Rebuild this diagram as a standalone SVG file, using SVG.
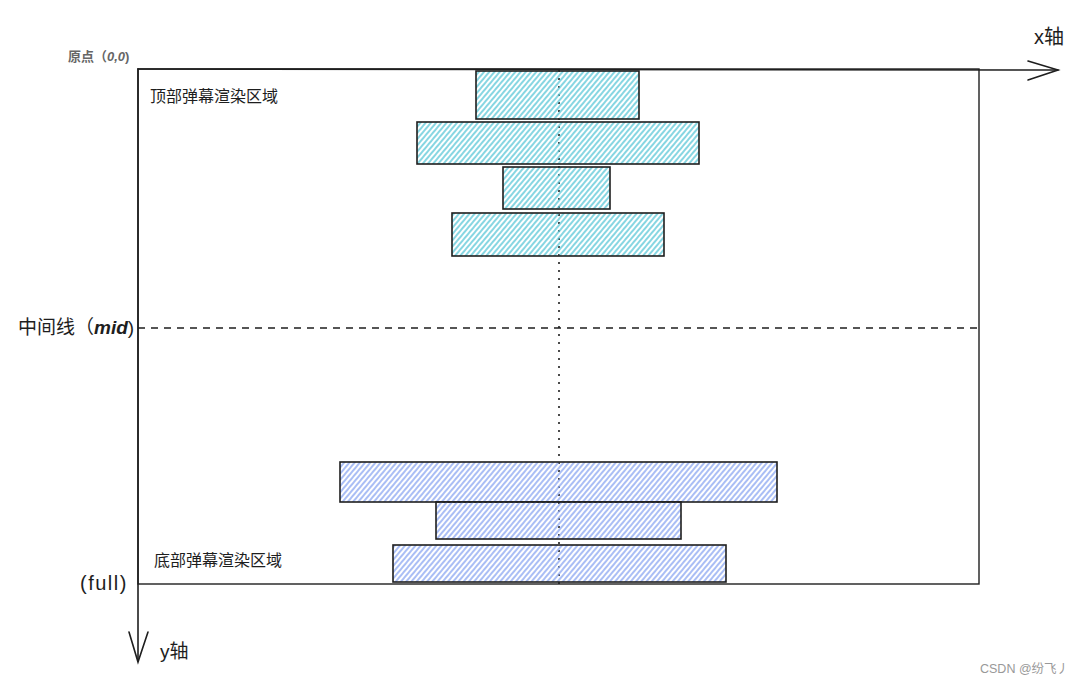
<svg xmlns="http://www.w3.org/2000/svg" width="1086" height="687" viewBox="0 0 1086 687">
<defs>
<pattern id="hc" width="4" height="4" patternUnits="userSpaceOnUse" patternTransform="rotate(40)">
<line x1="1" y1="0" x2="1" y2="4" stroke="#5ec8d8" stroke-width="1.5"/>
</pattern>
<pattern id="hb" width="4" height="4" patternUnits="userSpaceOnUse" patternTransform="rotate(40)">
<line x1="1" y1="0" x2="1" y2="4" stroke="#8ea8f2" stroke-width="1.5"/>
</pattern>
<style>
.cy{fill:url(#hc);stroke:#1e1e1e;stroke-width:1.6}
.bl{fill:url(#hb);stroke:#1e1e1e;stroke-width:1.6}
.ax{fill:none;stroke:#1e1e1e;stroke-width:1.6;stroke-linecap:round}
.t{font-family:"Liberation Sans","Noto Sans CJK SC",sans-serif;fill:#1e1e1e}
</style>
</defs>
<rect width="1086" height="687" fill="#ffffff"/>
<g id="frame">
<rect x="138" y="69" width="841" height="515" fill="none" stroke="#1e1e1e" stroke-width="1.4"/>
</g>
<g id="connectors">
<line class="ax" x1="138" y1="69" x2="1058" y2="70"/>
<polyline class="ax" points="1028,61 1058,70 1028,80"/>
<line class="ax" x1="138" y1="69" x2="138" y2="661"/>
<polyline class="ax" points="129,632 138,662 148,632"/>
<line x1="138" y1="328" x2="979" y2="328" stroke="#1e1e1e" stroke-width="1.4" stroke-dasharray="7,6"/>
<line x1="559" y1="70" x2="559" y2="584" stroke="#1e1e1e" stroke-width="1.6" stroke-dasharray="2,6"/>
</g>
<g id="top1"><rect class="cy" x="476" y="71" width="163" height="48"/></g>
<g id="top2"><rect class="cy" x="417" y="122" width="282" height="42"/></g>
<g id="top3"><rect class="cy" x="503" y="167" width="107" height="42"/></g>
<g id="top4"><rect class="cy" x="452" y="213" width="212" height="43"/></g>
<g id="bot1"><rect class="bl" x="340" y="462" width="437" height="40"/></g>
<g id="bot2"><rect class="bl" x="436" y="502" width="245" height="37"/></g>
<g id="bot3"><rect class="bl" x="393" y="545" width="333" height="37"/></g>
<g id="labels">
<text class="t" x="68" y="61" font-size="13" font-weight="bold" style="fill:#666">原点（<tspan font-style="italic">0,0</tspan>)</text>
<text class="t" x="150" y="102" font-size="16">顶部弹幕渲染区域</text>
<text class="t" x="154" y="566" font-size="16">底部弹幕渲染区域</text>
<text class="t" x="18" y="334" font-size="19">中间线（<tspan font-style="italic" font-weight="bold">mid</tspan>)</text>
<text class="t" x="80" y="590" font-size="20" letter-spacing="1.5">(full)</text>
<text class="t" x="1034" y="44" font-size="20">x轴</text>
<text class="t" x="160" y="658" font-size="19">y轴</text>
<text class="t" x="980" y="673" font-size="12.5" style="fill:#999">CSDN @纷飞丿</text>
</g>
</svg>
